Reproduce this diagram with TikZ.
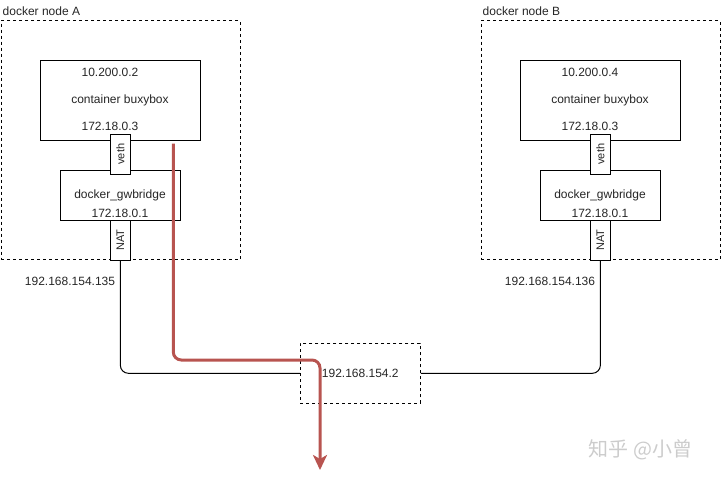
\documentclass[tikz,border=0pt]{standalone}
\usepackage{fontspec}
\setmainfont{Liberation Sans}
\newfontfamily\cjkfont{Noto Sans CJK SC}
\usetikzlibrary{arrows.meta}

\begin{document}
\begin{tikzpicture}[x=1pt,y=-1pt,
  every node/.style={font=\fontsize{12}{14}\selectfont,text=black!85},
  textlbl/.style={inner sep=0pt},
  hostbox/.style={draw,line width=1pt,dash pattern=on 3pt off 3pt,inner sep=0pt},
  plainbox/.style={draw,fill=white,line width=1pt,inner sep=0pt},
  portbox/.style={plainbox,rotate=90,font=\fontsize{11}{13}\selectfont},
  hostline/.style={line width=1pt,rounded corners=8pt},
  flowline/.style={draw=flowRed,line width=3pt,rounded corners=8pt,
    -{Stealth[length=15pt,width=14pt,inset=4pt]}}]
\definecolor{flowRed}{HTML}{B85450}
\useasboundingbox (0,0) rectangle (721,480);
\foreach \h/\dx/\ip/\ext in {A/0/10.200.0.2/135,B/480/10.200.0.4/136} {
  \node[hostbox,minimum width=239pt,minimum height=239pt] (host\h) at (120.5+\dx,140) {};
  \node[textlbl,anchor=west] (title\h) at (2.5+\dx,11) {docker node \h};
  \node[plainbox,minimum width=160pt,minimum height=79.3pt] (cont\h) at (120.3+\dx,100.35) {};
  \node[textlbl] (overlay\h) at (110+\dx,72.7) {\ip};
  \node[textlbl] (name\h) at (120+\dx,100.7) {container buxybox};
  \node[textlbl] (inner\h) at (110+\dx,126) {172.18.0.3};
  \node[plainbox,minimum width=120pt,minimum height=49.7pt] (bridge\h) at (120.3+\dx,195.15) {};
  \node[textlbl] (bridgename\h) at (120+\dx,195.7) {docker\_gwbridge};
  \node[textlbl] (bridgeip\h) at (120+\dx,213.3) {172.18.0.1};
  \node[portbox,minimum width=39.7pt,minimum height=19.3pt] (veth\h) at (120.35+\dx,154.15) {veth};
  \node[portbox,minimum width=40pt,minimum height=19.3pt] (nat\h) at (120.35+\dx,240) {NAT};
  \node[textlbl] (ext\h) at (70+\dx,281) {192.168.154.\ext};
}
\node[hostbox,minimum width=120pt,minimum height=60pt] (gw) at (360.3,373.3) {192.168.154.2};
\draw[hostline] (natA.west) |- (gw.west);
\draw[hostline] (natB.west) |- (gw.east);
% traffic leaving through the gateway
\coordinate (flowstart) at (173.3,143.5);
\coordinate (flowbend) at (320,360);
\coordinate (flowend) at (320,470);
\draw[flowline] (flowstart) |- (flowbend) -- (flowend);
\node[font=\cjkfont\fontsize{20}{22}\selectfont,text=black!20] (mark) at (640.5,450) {知乎 @小曾};
\end{tikzpicture}
\end{document}
